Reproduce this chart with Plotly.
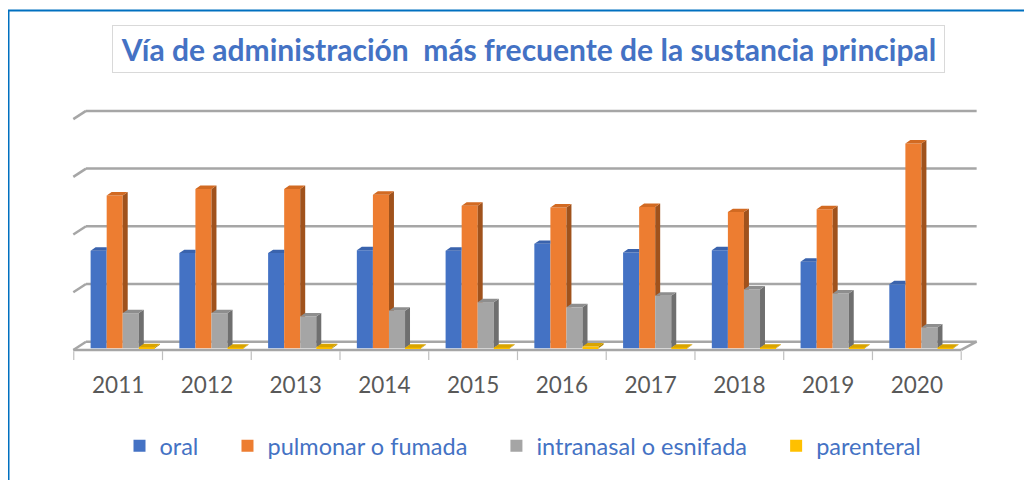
import plotly.graph_objects as go

years = ["2011", "2012", "2013", "2014", "2015", "2016", "2017", "2018", "2019", "2020"]
series_names = ["oral", "pulmonar o fumada", "intranasal o esnifada", "parenteral"]
oral = [16.9, 16.5, 16.5, 17.0, 16.9, 18.1, 16.6, 17.0, 15.0, 11.1]
pulmonar = [26.5, 27.6, 27.6, 26.6, 24.7, 24.4, 24.5, 23.6, 24.1, 35.5]
intranasal = [6.1, 6.1, 5.5, 6.5, 8.0, 7.1, 9.1, 10.2, 9.5, 3.6]
parenteral = [0.2, 0.1, 0.2, 0.1, 0.1, 0.3, 0.1, 0.1, 0.1, 0.1]
gridvals = [0, 10, 20, 30, 40]

front_colors = ["#4472C4", "#ED7D31", "#A5A5A5", "#FFC000"]
side_colors = ["#2F528F", "#A0521C", "#6F6F6F", "#B38600"]
top_colors = ["#3A63AD", "#D26A22", "#8E8E8E", "#D9A400"]

values = [oral, pulmonar, intranasal, parenteral]
offsets = [-0.31, -0.129, 0.052, 0.233]
bw = 0.181
dx, dy = 0.056, 0.6          # bar depth
wdx, wdy = 0.143, 1.43       # wall depth
front_y = -0.29

FONT = "Lato, 'Open Sans', sans-serif"

fig = go.Figure()
xs = list(range(len(years)))

for s in range(4):
    fig.add_trace(go.Bar(
        x=xs, y=values[s], name=series_names[s] + "\u00a0\u00a0\u00a0\u00a0",
        offset=offsets[s], width=bw,
        marker=dict(color=front_colors[s], line=dict(width=0)),
        hovertemplate=series_names[s] + ": %{y}<extra></extra>",
    ))

# 3D side and top faces
for s in range(4):
    sx, sy, tx, ty = [], [], [], []
    for i in xs:
        v = values[s][i]
        x0 = i + offsets[s]
        x1 = x0 + bw
        vn = values[s + 1][i] if s < 3 else None
        if vn is None:
            poly = [(x1, 0), (x1, v), (x1 + dx, v + dy), (x1 + dx, dy)]
        elif vn <= v:
            lo = max(vn, 0)
            lo2 = max(vn, dy)
            poly = [(x1, lo), (x1, v), (x1 + dx, v + dy), (x1 + dx, lo2)]
        elif vn < v + dy:
            xs_ = x1 + (vn - v) / dy * dx
            poly = [(xs_, vn), (x1 + dx, v + dy), (x1 + dx, vn)]
        else:
            poly = []
        for (px, py) in poly:
            sx.append(px); sy.append(py)
        if poly:
            sx.append(None); sy.append(None)
        if vn is not None and vn > v:
            tpoly = [(x0, v), (x0 + dx, v + dy), (x1, v + dy), (x1, v)]
        else:
            tpoly = [(x0, v), (x0 + dx, v + dy), (x1 + dx, v + dy), (x1, v)]
        for (px, py) in tpoly:
            tx.append(px); ty.append(py)
        tx.append(None); ty.append(None)
    fig.add_trace(go.Scatter(x=sx, y=sy, mode="lines", fill="toself",
                             fillcolor=side_colors[s], line=dict(width=0, color=side_colors[s]),
                             showlegend=False, hoverinfo="skip"))
    fig.add_trace(go.Scatter(x=tx, y=ty, mode="lines", fill="toself",
                             fillcolor=top_colors[s], line=dict(width=0, color=top_colors[s]),
                             showlegend=False, hoverinfo="skip"))

shapes = []
gcol = "#A6A6A6"
xl_front, xl_back = -0.505, -0.505 + wdx
xr_back = 9.674
xr_front = xr_back - 0.174
for g in gridvals:
    shapes.append(dict(type="line", xref="x", yref="y", x0=xl_back, x1=xr_back,
                       y0=g + front_y + wdy, y1=g + front_y + wdy,
                       line=dict(color=gcol, width=2.5), layer="below"))
    shapes.append(dict(type="line", xref="x", yref="y", x0=xl_front, x1=xl_back,
                       y0=g + front_y, y1=g + front_y + wdy,
                       line=dict(color=gcol, width=2.5), layer="below"))
shapes.append(dict(type="line", xref="x", yref="y", x0=xl_front, x1=xr_front,
                   y0=front_y, y1=front_y, line=dict(color=gcol, width=2.5), layer="below"))
shapes.append(dict(type="line", xref="x", yref="y", x0=xr_front, x1=xr_back,
                   y0=front_y, y1=front_y + wdy, line=dict(color=gcol, width=2.5), layer="below"))
for b in range(len(years) + 1):
    shapes.append(dict(type="line", xref="x", yref="y", x0=b - 0.5, x1=b - 0.5,
                       y0=front_y - 0.2, y1=front_y - 1.75,
                       line=dict(color="#BFBFBF", width=1.2), layer="below"))

# page offset of 8 px (body margin) taken into account
OFF = 8
L, T, PW, PH = 60 - OFF, 100 - OFF, 932, 262
def px2x(p): return (p - OFF - L) / PW
def py2y(p): return (T + PH - (p - OFF)) / PH
shapes.append(dict(type="rect", xref="paper", yref="paper",
                   x0=px2x(8.5), x1=px2x(1060), y0=py2y(510), y1=py2y(10.5),
                   line=dict(color="#0070C0", width=2), fillcolor="rgba(0,0,0,0)"))

fig.update_layout(
    width=1032, height=480,
    margin=dict(l=L, r=1032 - L - PW, t=T, b=480 - T - PH),
    paper_bgcolor="white", plot_bgcolor="white",
    barmode="overlay",
    showlegend=True,
    legend=dict(orientation="h", x=px2x(535), xanchor="center", y=py2y(446), yanchor="middle",
                font=dict(family=FONT, size=23.5, color="#4472C4"),
                itemwidth=30, traceorder="normal"),
    xaxis=dict(range=[-0.655, 9.847], tickmode="array", tickvals=xs, ticktext=years,
               showgrid=False, zeroline=False, showline=False, ticks="",
               tickfont=dict(family=FONT, size=22.5, color="#595959"),
               ticklabelstandoff=7, fixedrange=True),
    yaxis=dict(range=[-2.374, 43.03], showgrid=False, zeroline=False, showline=False,
               showticklabels=False, ticks="", fixedrange=True),
    shapes=shapes,
    annotations=[dict(
        text="<b>Vía de administración\u00a0 más frecuente de la sustancia principal</b>",
        xref="paper", yref="paper", x=px2x(528.5), y=py2y(49.5),
        xanchor="center", yanchor="middle", showarrow=False,
        font=dict(family=FONT, size=30, color="#4472C4"),
        width=831, height=46, bordercolor="#D9D9D9", borderwidth=1, borderpad=0,
        bgcolor="white")],
)

fig.write_html("out.html")
